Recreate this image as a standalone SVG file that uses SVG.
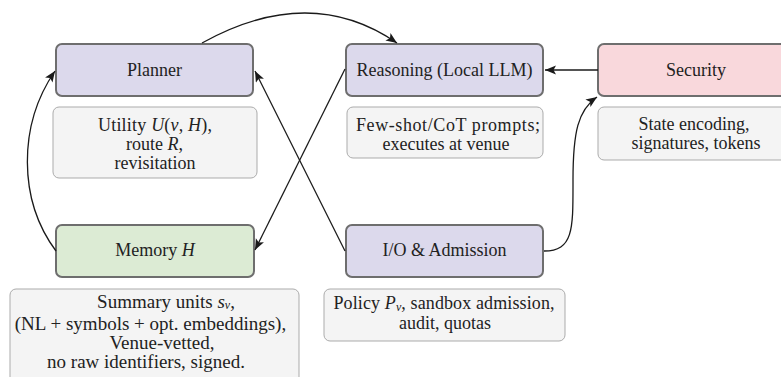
<svg xmlns="http://www.w3.org/2000/svg" width="781" height="377" viewBox="0 0 781 377">
<defs>
<marker id="arr" markerUnits="userSpaceOnUse" markerWidth="12" markerHeight="10" refX="11" refY="4.5" orient="auto">
<path d="M0,0 L11,4.5 L0,9 L2.5,4.5 z" fill="#1a1a1a"/>
</marker>
</defs>
<style>
text{font-family:'Liberation Serif','DejaVu Serif',serif;font-size:18px;fill:#222;text-anchor:middle}
.big{font-size:19px}
.node{stroke:#6e6e6e;stroke-width:2}
.core{fill:#dcd9ec}
.mem{fill:#dcebd4}
.sec{fill:#f9d8dc}
.desc{fill:#f4f4f4;stroke:#ababab;stroke-width:1}
.edge{fill:none;stroke:#1a1a1a;stroke-width:1.3;marker-end:url(#arr)}
.i{font-style:italic}
.sub{font-size:12px;font-style:italic}
</style>
<rect width="781" height="377" fill="#ffffff"/>

<g id="planner">
<rect class="node core" x="56" y="44" width="197" height="52" rx="6"/>
<text x="154.5" y="76">Planner</text>
</g>
<g id="planner-desc">
<rect class="desc" x="53" y="107" width="204" height="71" rx="6"/>
<text x="155" y="131" textLength="114" lengthAdjust="spacing">Utility <tspan class="i">U</tspan>(<tspan class="i">v</tspan>, <tspan class="i">H</tspan>),</text>
<text x="154.5" y="150">route <tspan class="i">R</tspan>,</text>
<text x="155" y="169">revisitation</text>
</g>

<g id="reasoning">
<rect class="node core" x="346" y="44" width="197" height="52" rx="6"/>
<text x="444.5" y="76">Reasoning (Local LLM)</text>
</g>
<g id="reasoning-desc">
<rect class="desc" x="347" y="107" width="196" height="51" rx="6"/>
<text x="448" y="131" textLength="184" lengthAdjust="spacing">Few-shot/CoT prompts;</text>
<text x="446" y="150">executes at venue</text>
</g>

<g id="security">
<rect class="node sec" x="598" y="44" width="200" height="52" rx="6"/>
<text x="696" y="76">Security</text>
</g>
<g id="security-desc">
<rect class="desc" x="598" y="107" width="200" height="53" rx="6"/>
<text x="694" y="130">State encoding,</text>
<text x="696" y="149">signatures, tokens</text>
</g>

<g id="memory">
<rect class="node mem" x="56" y="225" width="198" height="52" rx="6"/>
<text x="155" y="256">Memory <tspan class="i">H</tspan></text>
</g>
<g id="memory-desc">
<rect class="desc" x="10" y="289" width="289" height="95" rx="6"/>
<text class="big" x="166" y="308">Summary units <tspan class="i">s</tspan><tspan class="sub" baseline-shift="-1">v</tspan>,</text>
<text class="big" x="150.5" y="329.5">(NL + symbols + opt. embeddings),</text>
<text class="big" x="162" y="349">Venue-vetted,</text>
<text class="big" x="146" y="368">no raw identifiers, signed.</text>
</g>

<g id="io">
<rect class="node core" x="346" y="225" width="197" height="52" rx="6"/>
<text x="444.5" y="256">I/O &amp; Admission</text>
</g>
<g id="io-desc">
<rect class="desc" x="324" y="289" width="241" height="52" rx="6"/>
<text x="444" y="309" textLength="221" lengthAdjust="spacing">Policy <tspan class="i">P</tspan><tspan class="sub" baseline-shift="-2">v</tspan>, sandbox admission,</text>
<text x="445" y="329">audit, quotas</text>
</g>

<g id="connectors">
<path class="edge" d="M202,43 Q310,-17 397,43"/>
<path class="edge" d="M598,70 L545,70"/>
<path class="edge" d="M345,69 L255,250"/>
<path class="edge" d="M345,251 L255,71"/>
<path class="edge" d="M56,251 C18,200 18,125 55,71"/>
<path class="edge" d="M544,251 C574,251 573,228 573,180 C573,132 578,110 597,97"/>
</g>
</svg>
